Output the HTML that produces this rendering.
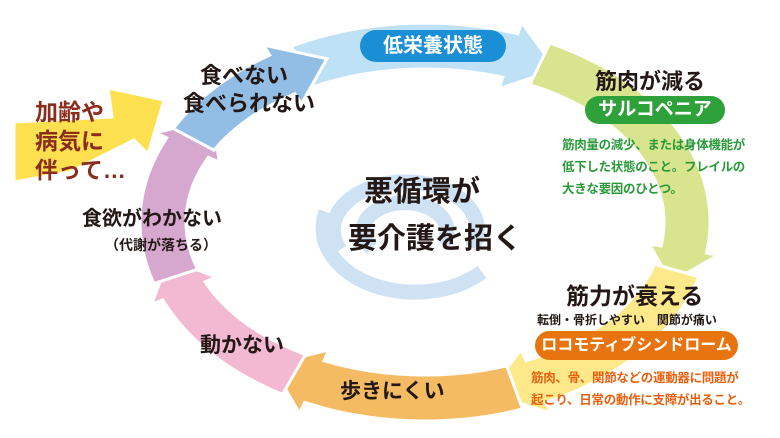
<!DOCTYPE html>
<html><head><meta charset="utf-8"><style>
body{margin:0;width:780px;height:438px;background:#fff;overflow:hidden;font-family:"Liberation Sans","Noto Sans CJK JP",sans-serif;}
svg{position:absolute;left:0;top:0}
.t{position:absolute;font-weight:bold;white-space:nowrap;color:#231815;font-family:"Liberation Sans","Noto Sans CJK JP",sans-serif;}
.pill{position:absolute;border-radius:16px;color:#fff;font-weight:bold;text-align:center;white-space:nowrap}
</style></head><body>
<svg id="s" width="780" height="438" viewBox="0 0 780 438">
<g fill="none" stroke="#cfe2f3" stroke-width="15">
<path d="M340 250 A72 48 0 1 1 472 248"/>
<path d="M372 248 A42 28 0 1 1 442 244"/>
<path d="M326 212 A92 64 0 0 0 482 272"/>
</g>
<g id="ring"></g>
<polygon points="14,122 112,117 108,88 164,100 148,154 134,140 70,172 14,182" fill="#fde04f" stroke="#fff" stroke-width="3"/>
</svg>
<script>
(function(){
var cx=425,cy=222,rx=262,ry=176,w=46,g=document.getElementById('ring');
function P(a,r){a=a*Math.PI/180;return [cx+(rx+r)*Math.cos(a),cy+(ry+r)*Math.sin(a)];}
function f(p){return p[0].toFixed(1)+' '+p[1].toFixed(1);}
function seg(a0,a1,col){
 var pts=[],n=30,aE=a1-7;
 for(var i=0;i<=n;i++){var a=a0+(aE-a0)*i/n;pts.push(P(a,w/2));}
 for(var i=n;i>=0;i--){var a=a0+(aE-a0)*i/n;pts.push(P(a,-w/2));}
 var o=P(aE,w/2+12),inn=P(aE,-w/2-12),tip=P(a1+4,0);
 var d='M'+pts.slice(0,n+1).map(f).join(' L')+' L'+f(o)+' L'+f(tip)+' L'+f(inn)+' L'+pts.slice(n+1).map(f).join(' L')+'Z';
 var e=document.createElementNS('http://www.w3.org/2000/svg','path');
 e.setAttribute('d',d);e.setAttribute('fill',col);e.setAttribute('stroke','#fff');e.setAttribute('stroke-width','3');
 g.appendChild(e);
}
seg(-118,-64,'#bfe1f5');
seg(-64,16,'#d8e48e');
seg(16,72,'#fde98a');
seg(70,122,'#f5bb62');
seg(120,164,'#f3b9d2');
seg(162,212,'#d6a8cf');
seg(208,244,'#92bde4');
})();
</script>
<div class="pill" style="left:360px;top:30px;width:146px;height:32px;line-height:32px;background:#1b8fd6;font-size:20px">低栄養状態</div>
<div class="t" style="left:200px;top:58px;font-size:22px">食べない</div>
<div class="t" style="left:183px;top:86px;font-size:22px">食べられない</div>
<div class="t" style="left:35px;top:98px;font-size:23px;color:#8a2d1c;line-height:29px">加齢や<br>病気に<br>伴って…</div>
<div class="t" style="left:595px;top:64px;font-size:22px">筋肉が減る</div>
<div class="pill" style="left:585px;top:96px;width:140px;height:28px;line-height:28px;background:#2ea13a;font-size:19px">サルコペニア</div>
<div class="t" style="left:562px;top:134px;font-size:12.5px;color:#2b9a3a;line-height:22px;letter-spacing:-0.3px">筋肉量の減少、または身体機能が<br>低下した状態のこと。フレイルの<br>大きな要因のひとつ。</div>
<div class="t" style="left:364px;top:168px;font-size:29px">悪循環が</div>
<div class="t" style="left:348px;top:215px;font-size:29px">要介護を招く</div>
<div class="t" style="left:82px;top:202px;font-size:20px">食欲がわかない</div>
<div class="t" style="left:105px;top:235px;font-size:14px">（代謝が落ちる）</div>
<div class="t" style="left:200px;top:329px;font-size:21px">動かない</div>
<div class="t" style="left:340px;top:375px;font-size:21px">歩きにくい</div>
<div class="t" style="left:566px;top:277px;font-size:23px">筋力が衰える</div>
<div class="t" style="left:537px;top:311px;font-size:12px">転倒・骨折しやすい　関節が痛い</div>
<div class="pill" style="left:535px;top:331px;width:203px;height:29px;line-height:29px;background:#e8740f;font-size:16px">ロコモティブシンドローム</div>
<div class="t" style="left:531px;top:367px;font-size:12.5px;color:#e8600f;line-height:22px;letter-spacing:-0.3px">筋肉、骨、関節などの運動器に問題が<br>起こり、日常の動作に支障が出ること。</div>
</body></html>
